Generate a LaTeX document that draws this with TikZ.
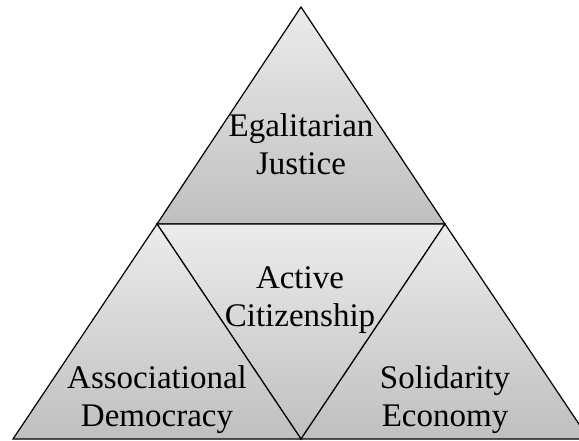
\documentclass[tikz,border=0pt]{standalone}
\usepackage{fontspec}
\setmainfont{Liberation Serif}
\begin{document}
\begin{tikzpicture}[x=1pt,y=-1pt,
  tri/.style={draw=black,line width=1.2pt,line join=miter,shading=axis,top color=gray!15,bottom color=gray!50},
  lbl/.style={anchor=base,inner sep=0pt,font=\fontsize{33}{38}\selectfont}]
\useasboundingbox (0,0) rectangle (579,441);
\clip (0,0) rectangle (579,441);
\coordinate (A) at (301,7);
\coordinate (TL) at (157,224);
\coordinate (TR) at (445,224);
\coordinate (BL) at (13,439);
\coordinate (BM) at (301,439);
\coordinate (BR) at (589,439);
\path[tri] (A) -- (TR) -- (TL) -- cycle;
\path[tri] (TL) -- (TR) -- (BM) -- cycle;
\path[tri] (TL) -- (BM) -- (BL) -- cycle;
\path[tri] (TR) -- (BR) -- (BM) -- cycle;
\node[lbl] (eg) at (301,137) {\setlength{\tabcolsep}{0pt}\begin{tabular}[t]{c}Egalitarian\\Justice\end{tabular}};
\node[lbl] (ac) at (300,288) {\setlength{\tabcolsep}{0pt}\begin{tabular}[t]{c}Active\\Citizenship\end{tabular}};
\node[lbl] (ad) at (157,388) {\setlength{\tabcolsep}{0pt}\begin{tabular}[t]{c}Associational\\Democracy\end{tabular}};
\node[lbl] (se) at (445,388) {\setlength{\tabcolsep}{0pt}\begin{tabular}[t]{c}Solidarity\\Economy\end{tabular}};
\end{tikzpicture}
\end{document}
